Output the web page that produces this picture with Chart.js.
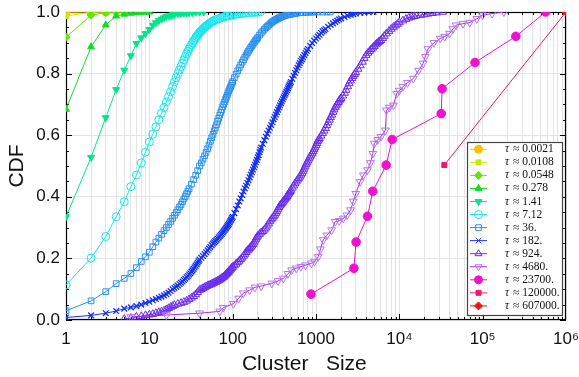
<!DOCTYPE html>
<html>
<head>
<meta charset="utf-8">
<script src="https://cdn.jsdelivr.net/npm/chart.js@4.4.1/dist/chart.umd.min.js"></script>
<style>
  html, body { margin: 0; padding: 0; background: #fff; }
  #wrap { width: 579px; height: 377px; }
</style>
</head>
<body>
<div id="wrap"><canvas id="cdf"></canvas></div>
<script>
// tau values for the legend
const TAU_LABELS = ['0.0021', '0.0108', '0.0548', '0.278', '1.41', '7.12', '36.', '182.', '924.', '4680.', '23700.', '120000.', '607000.'];

// x axis labels at the decades
const X_DECADES = [1, 10, 100, 1000, 1e4, 1e5, 1e6];
const X_LABELS = ['1', '10', '100', '1000', '10\u2074', '10\u2075', '10\u2076'];
const Y_TICKS = [0, 0.2, 0.4, 0.6, 0.8, 1.0];

// cluster sizes (s_) and cdf values (c_)
const s_0021 = [1, 2, 3];
const c_0021 = [0.999, 1, 1];

const s_0108 = [1, 2, 3, 4];
const c_0108 = [0.987, 0.999, 1, 1];

const s_0548 = [1, 2, 3, 4, 5];
const c_0548 = [0.918, 0.99, 0.998, 1, 1];

const s_278 = [1, 2, 3, 4, 5, 6, 7, 8, 9, 10];
const c_278 = [0.684, 0.887, 0.958, 0.987, 0.993, 0.996, 0.998, 0.999, 1, 1];

const s_141 = [1, 2, 3, 4, 5, 6, 7, 8, 9, 10, 11, 12, 13, 14, 15, 16, 17, 18, 19, 20, 22, 24, 26, 28, 30, 33, 36, 40, 45];
const c_141 = [0.335, 0.528, 0.657, 0.748, 0.811, 0.858, 0.898, 0.916, 0.93, 0.943, 0.957, 0.965, 0.972, 0.977, 0.981, 0.985, 0.987, 0.989, 0.991, 0.992, 0.994, 0.995, 0.996, 0.997, 0.998, 0.998, 0.999, 1, 1];

const s_712 = [1, 2, 3, 4, 5, 6, 7, 8, 9, 10, 11, 12, 13, 14, 15, 16, 17, 18, 19, 20,
  21, 22, 23, 24, 25, 26, 27, 28, 29, 30, 31, 32, 33, 34, 35, 36, 37, 38, 39, 40,
  41, 42, 43, 44, 45, 46, 47, 48, 49, 50, 52, 54, 56, 58, 60, 63, 66, 70, 74, 78,
  82, 86, 90, 95, 100, 106, 112, 120, 128, 136, 145, 155, 170, 185, 200, 215];
const c_712 = [0.114, 0.201, 0.271, 0.335, 0.384, 0.433, 0.471, 0.51, 0.545, 0.578, 0.603, 0.627, 0.65, 0.671, 0.69, 0.708, 0.725, 0.741, 0.758, 0.773,
  0.787, 0.8, 0.812, 0.823, 0.834, 0.845, 0.855, 0.864, 0.872, 0.88, 0.887, 0.894, 0.9, 0.906, 0.911, 0.916, 0.921, 0.925, 0.929, 0.933,
  0.936, 0.939, 0.942, 0.945, 0.948, 0.95, 0.952, 0.954, 0.956, 0.958, 0.962, 0.965, 0.968, 0.97, 0.972, 0.975, 0.977, 0.98, 0.982, 0.984,
  0.986, 0.987, 0.988, 0.99, 0.991, 0.992, 0.993, 0.994, 0.995, 0.996, 0.997, 0.998, 0.998, 0.999, 0.999, 1];

const s_36 = [1, 2, 3, 4, 5, 6, 7, 8, 9, 10, 11, 12, 13, 14, 15, 16, 17, 18, 19, 20,
  21, 22, 23, 24, 25, 26, 27, 28, 29, 30, 32, 34, 36, 38, 40, 42, 44, 46, 48, 50,
  52, 54, 56, 58, 60, 62, 64, 66, 68, 70, 72, 74, 76, 78, 80, 82, 84, 86, 88, 90,
  92, 94, 96, 98, 100, 105, 110, 115, 120, 125, 130, 135, 140, 145, 150, 155, 160, 165, 170, 175,
  180, 185, 190, 195, 200, 210, 220, 230, 240, 250, 260, 270, 280, 290, 300, 310, 320, 330, 340, 350,
  360, 370, 380, 390, 400, 420, 440, 460, 480, 500, 520, 540, 560, 580, 600, 650, 700, 750, 800, 850,
  900, 950, 1050, 1200, 1350, 1480];
const c_36 = [0.03, 0.062, 0.092, 0.118, 0.135, 0.151, 0.17, 0.19, 0.205, 0.22, 0.238, 0.253, 0.266, 0.278, 0.29, 0.3, 0.31, 0.32, 0.33, 0.34,
  0.349, 0.358, 0.367, 0.375, 0.384, 0.393, 0.401, 0.41, 0.418, 0.426, 0.441, 0.456, 0.47, 0.485, 0.5, 0.51, 0.522, 0.533, 0.544, 0.556,
  0.568, 0.58, 0.592, 0.603, 0.614, 0.624, 0.634, 0.645, 0.655, 0.665, 0.674, 0.683, 0.692, 0.7, 0.708, 0.716, 0.723, 0.73, 0.737, 0.744,
  0.75, 0.756, 0.762, 0.768, 0.774, 0.787, 0.798, 0.809, 0.819, 0.828, 0.837, 0.845, 0.853, 0.86, 0.867, 0.873, 0.879, 0.885, 0.89, 0.895,
  0.9, 0.905, 0.909, 0.913, 0.917, 0.925, 0.932, 0.938, 0.944, 0.949, 0.953, 0.957, 0.961, 0.965, 0.968, 0.971, 0.973, 0.975, 0.977, 0.979,
  0.981, 0.982, 0.984, 0.985, 0.986, 0.988, 0.99, 0.991, 0.992, 0.993, 0.994, 0.995, 0.996, 0.996, 0.997, 0.998, 0.998, 0.999, 0.999, 1,
  1, 1, 1, 1, 1, 1];

const s_182 = [1, 2, 3, 4, 5, 6, 7, 8, 9, 10, 11, 12, 13, 14, 15, 16, 17, 18, 19, 20,
  21, 22, 23, 24, 25, 26, 27, 28, 29, 30, 31, 32, 33, 34, 35, 36, 37, 38, 39, 40,
  42, 44, 46, 48, 50, 52, 54, 56, 58, 60, 62, 64, 66, 68, 70, 72, 74, 76, 78, 80,
  82, 84, 86, 88, 90, 92, 94, 96, 98, 100, 105, 110, 115, 120, 125, 130, 135, 140, 145, 150,
  155, 160, 165, 170, 175, 180, 185, 190, 195, 200, 205, 210, 215, 220, 230, 240, 250, 260, 270, 280,
  290, 300, 310, 320, 330, 340, 350, 360, 370, 380, 390, 400, 410, 420, 430, 440, 450, 460, 470, 480,
  490, 500, 520, 540, 560, 580, 600, 620, 640, 660, 680, 700, 725, 750, 775, 800, 850, 900, 950, 1000,
  1050, 1100, 1150, 1200, 1250, 1300, 1400, 1500, 1600, 1700, 1800, 1900, 2000, 2200, 2400, 2600, 2800, 3000, 3400, 3800, 4300, 4900];
const c_182 = [0.008, 0.015, 0.022, 0.029, 0.037, 0.041, 0.045, 0.05, 0.055, 0.059, 0.064, 0.068, 0.072, 0.076, 0.08, 0.084, 0.089, 0.094, 0.1, 0.104,
  0.108, 0.112, 0.117, 0.121, 0.125, 0.13, 0.134, 0.139, 0.143, 0.148, 0.152, 0.157, 0.161, 0.166, 0.171, 0.176, 0.181, 0.186, 0.191, 0.196,
  0.202, 0.208, 0.214, 0.22, 0.226, 0.232, 0.237, 0.243, 0.248, 0.252, 0.256, 0.26, 0.264, 0.268, 0.272, 0.276, 0.28, 0.284, 0.288, 0.292,
  0.296, 0.3, 0.304, 0.308, 0.312, 0.317, 0.322, 0.326, 0.331, 0.335, 0.347, 0.36, 0.372, 0.385, 0.395, 0.406, 0.417, 0.427, 0.436, 0.445,
  0.454, 0.463, 0.472, 0.48, 0.488, 0.496, 0.504, 0.512, 0.52, 0.528, 0.535, 0.545, 0.553, 0.56, 0.572, 0.584, 0.595, 0.605, 0.615, 0.624,
  0.633, 0.642, 0.651, 0.659, 0.667, 0.675, 0.683, 0.69, 0.697, 0.704, 0.71, 0.717, 0.723, 0.729, 0.735, 0.741, 0.746, 0.752, 0.758, 0.763,
  0.768, 0.773, 0.783, 0.793, 0.802, 0.811, 0.819, 0.827, 0.834, 0.841, 0.847, 0.853, 0.86, 0.867, 0.874, 0.88, 0.89, 0.899, 0.907, 0.914,
  0.92, 0.926, 0.932, 0.937, 0.941, 0.945, 0.952, 0.958, 0.963, 0.968, 0.972, 0.976, 0.979, 0.984, 0.988, 0.991, 0.993, 0.995, 0.997, 0.998, 0.999, 1];

const s_924 = [5, 6, 7, 8, 9, 10, 11, 12, 13, 14, 15, 16, 17, 18, 19, 20, 22, 24, 26, 28,
  30, 32, 34, 36, 38, 40, 42, 44, 46, 48, 50, 52, 54, 56, 58, 60, 62, 64, 66, 68,
  70, 72, 74, 76, 78, 80, 82, 84, 86, 88, 90, 92, 94, 96, 98, 100, 105, 110, 115, 120,
  125, 130, 135, 140, 145, 150, 155, 160, 165, 170, 175, 180, 185, 190, 195, 200, 210, 220, 230, 240,
  250, 260, 270, 280, 290, 300, 310, 320, 330, 340, 350, 360, 370, 380, 390, 400, 410, 420, 430, 440,
  450, 460, 470, 480, 490, 500, 520, 540, 560, 580, 600, 620, 640, 660, 680, 700, 720, 740, 760, 780,
  800, 825, 850, 875, 900, 925, 950, 975, 1000, 1025, 1050, 1075, 1100, 1150, 1200, 1250, 1300, 1350, 1400, 1450,
  1500, 1550, 1600, 1650, 1700, 1750, 1800, 1850, 1900, 1950, 2000, 2100, 2200, 2300, 2400, 2500, 2600, 2700, 2800, 2900,
  3000, 3200, 3400, 3600, 3800, 4000, 4200, 4400, 4600, 4800, 5000, 5200, 5400, 5600, 5800, 6000, 6300, 6600, 7000, 7500,
  8000, 8500, 9000, 9500, 10000, 11000, 12000, 13000, 14000, 15000, 16000, 18000, 20000, 22000, 25000, 28000, 33000];
const c_924 = [0.003, 0.006, 0.01, 0.012, 0.015, 0.017, 0.019, 0.022, 0.025, 0.027, 0.03, 0.034, 0.038, 0.042, 0.045, 0.048, 0.052, 0.055, 0.058, 0.062,
  0.067, 0.072, 0.077, 0.083, 0.09, 0.097, 0.1, 0.103, 0.106, 0.109, 0.111, 0.113, 0.115, 0.117, 0.119, 0.121, 0.123, 0.125, 0.127, 0.129,
  0.131, 0.133, 0.136, 0.138, 0.14, 0.143, 0.146, 0.149, 0.152, 0.155, 0.158, 0.161, 0.164, 0.167, 0.17, 0.172, 0.177, 0.182, 0.187, 0.192,
  0.197, 0.202, 0.208, 0.214, 0.22, 0.225, 0.229, 0.233, 0.237, 0.241, 0.246, 0.251, 0.257, 0.263, 0.268, 0.273, 0.279, 0.284, 0.288, 0.293,
  0.299, 0.306, 0.313, 0.32, 0.326, 0.331, 0.336, 0.341, 0.347, 0.353, 0.36, 0.366, 0.371, 0.375, 0.379, 0.383, 0.387, 0.391, 0.394, 0.398,
  0.402, 0.406, 0.41, 0.414, 0.418, 0.422, 0.429, 0.436, 0.443, 0.449, 0.455, 0.46, 0.465, 0.471, 0.477, 0.484, 0.491, 0.498, 0.505, 0.511,
  0.517, 0.524, 0.53, 0.536, 0.542, 0.548, 0.554, 0.56, 0.567, 0.574, 0.58, 0.585, 0.59, 0.598, 0.606, 0.614, 0.623, 0.632, 0.641, 0.65,
  0.658, 0.666, 0.675, 0.683, 0.69, 0.696, 0.702, 0.707, 0.712, 0.716, 0.72, 0.728, 0.737, 0.747, 0.758, 0.768, 0.777, 0.785, 0.792, 0.798,
  0.804, 0.815, 0.826, 0.838, 0.85, 0.86, 0.867, 0.873, 0.879, 0.884, 0.889, 0.894, 0.898, 0.902, 0.905, 0.908, 0.915, 0.922, 0.93, 0.938,
  0.945, 0.951, 0.956, 0.961, 0.966, 0.972, 0.977, 0.981, 0.984, 0.986, 0.988, 0.99, 0.992, 0.994, 0.996, 0.998, 1];

const s_4680 = [6, 16, 40, 70, 77, 102, 118, 134, 160, 185, 220, 295, 350, 405, 460, 510, 580, 660, 750, 880,
  960, 1060, 1130, 1220, 1350, 1540, 1700, 1900, 2120, 2350, 2600, 2800, 3000, 3380, 3700, 4150, 4500, 4800, 5000, 5500,
  6000, 6800, 7000, 7600, 8500, 9300, 10000, 11000, 12500, 14700, 17000, 19300, 20500, 22000, 26000, 31000, 35000, 40000, 44000, 48000,
  58000, 70000, 85000, 100000, 130000, 180000];
const c_4680 = [0.01, 0.016, 0.022, 0.028, 0.04, 0.053, 0.07, 0.087, 0.097, 0.106, 0.11, 0.119, 0.127, 0.135, 0.15, 0.162, 0.168, 0.173, 0.178, 0.184,
  0.19, 0.205, 0.23, 0.26, 0.275, 0.292, 0.319, 0.322, 0.33, 0.34, 0.357, 0.385, 0.41, 0.449, 0.47, 0.487, 0.51, 0.54, 0.573, 0.585,
  0.595, 0.616, 0.681, 0.69, 0.697, 0.735, 0.745, 0.757, 0.77, 0.784, 0.81, 0.833, 0.855, 0.88, 0.9, 0.914, 0.92, 0.93, 0.945, 0.957,
  0.962, 0.966, 0.978, 0.99, 0.995, 1];

const s_23700 = [870, 2850, 3030, 4150, 4800, 6950, 8200, 31800, 32600, 81000, 250000, 570000];
const c_23700 = [0.084, 0.168, 0.253, 0.337, 0.418, 0.503, 0.586, 0.67, 0.751, 0.836, 0.921, 1];

const s_120000 = [34600, 1000000];
const c_120000 = [0.503, 1];

const s_607000 = [1000000];
const c_607000 = [1];

const COLORS = ['#f5c400', '#c4ec00', '#5fe800', '#14dc28', '#00e68a', '#14e6f0', '#2a8ff0', '#1430f5', '#6a2cf0', '#a82ae8', '#f010d0', '#f0186a', '#f01414'];

function series(i, sizes, cdf, style, filled, radius, rotation) {
  const col = COLORS[i];
  return {
    label: 'τ ≈ ' + TAU_LABELS[i],
    data: sizes.map((s, k) => ({ x: s, y: cdf[k] })),
    order: 13 - i,
    borderColor: col,
    backgroundColor: col,
    borderWidth: 1,
    pointStyle: style,
    pointRadius: radius,
    pointRotation: rotation || 0,
    pointBackgroundColor: filled ? col : 'rgba(0,0,0,0)',
    pointBorderColor: col,
    pointBorderWidth: 1,
    tension: 0,
    _filled: filled
  };
}

const datasets = [
  series(0, s_0021, c_0021, 'circle', true, 4),
  series(1, s_0108, c_0108, 'rect', true, 3.5),
  series(2, s_0548, c_0548, 'rectRot', true, 4),
  series(3, s_278, c_278, 'triangle', true, 4),
  series(4, s_141, c_141, 'triangle', true, 4, 180),
  series(5, s_712, c_712, 'circle', false, 4),
  series(6, s_36, c_36, 'rect', false, 4),
  series(7, s_182, c_182, 'crossRot', false, 4),
  series(8, s_924, c_924, 'triangle', false, 4.5),
  series(9, s_4680, c_4680, 'triangle', false, 4.5, 180),
  series(10, s_23700, c_23700, 'circle', true, 4.3),
  series(11, s_120000, c_120000, 'rect', true, 3.5),
  series(12, s_607000, c_607000, 'rectRot', true, 4)
];
datasets[9].pointBorderColor = '#b872f0';
datasets[7].pointBorderWidth = 1.3;

// frame with inward ticks on all four sides
const framePlugin = {
  id: 'frame',
  beforeDatasetsDraw(chart) {
    const { ctx, chartArea: a, scales: { x, y } } = chart;
    ctx.save();
    ctx.strokeStyle = '#000';
    ctx.lineWidth = 1;
    ctx.beginPath();
    for (let e = 0; e < 6; e++) {
      for (let m = 1; m < 10; m++) {
        const px = Math.round(x.getPixelForValue(m * Math.pow(10, e))) + 0.5;
        const len = m === 1 ? 6 : 3;
        ctx.moveTo(px, a.bottom); ctx.lineTo(px, a.bottom - len);
        ctx.moveTo(px, a.top); ctx.lineTo(px, a.top + len);
      }
    }
    for (let i = 0; i <= 20; i++) {
      const py = Math.round(y.getPixelForValue(i * 0.05)) + 0.5;
      const len = i % 4 === 0 ? 6 : 3;
      ctx.moveTo(a.left, py); ctx.lineTo(a.left + len, py);
      ctx.moveTo(a.right, py); ctx.lineTo(a.right - len, py);
    }
    ctx.stroke();
    ctx.lineWidth = 1.2;
    ctx.strokeRect(a.left + 0.5, a.top + 0.5, a.right - a.left - 1, a.bottom - a.top - 1);
    ctx.restore();
  }
};

// legend box inside the plot, bottom right
const legendPlugin = {
  id: 'boxLegend',
  afterDraw(chart) {
    const ctx = chart.ctx;
    const bx = 467, by = 142, bw = 95, bh = 173, row = 13.05, first = 149.3;
    ctx.save();
    ctx.fillStyle = '#fff';
    ctx.fillRect(bx, by, bw, bh);
    ctx.strokeStyle = '#444';
    ctx.lineWidth = 1.2;
    ctx.strokeRect(bx + 0.5, by + 0.5, bw, bh);
    chart.data.datasets.forEach((ds, i) => {
      const cy = first + i * row;
      ctx.strokeStyle = ds.borderColor;
      ctx.lineWidth = 1;
      ctx.beginPath();
      ctx.moveTo(470, cy); ctx.lineTo(487, cy);
      ctx.stroke();
      ctx.fillStyle = ds._filled ? ds.borderColor : 'rgba(0,0,0,0)';
      ctx.strokeStyle = ds.pointBorderColor;
      Chart.helpers.drawPoint(ctx, {
        pointStyle: ds.pointStyle, radius: Math.min(ds.pointRadius, 4), rotation: ds.pointRotation, borderWidth: 1
      }, 478.5, cy);
      ctx.fillStyle = '#111';
      ctx.textBaseline = 'middle';
      ctx.textAlign = 'left';
      ctx.font = 'italic 11.5px "Liberation Serif"';
      ctx.fillText('τ', 505, cy);
      ctx.font = '11.5px "Liberation Serif"';
      ctx.fillText('≈ ' + TAU_LABELS[i], 513, cy);
    });
    ctx.restore();
  }
};

new Chart(document.getElementById('cdf').getContext('2d'), {
  type: 'line',
  data: { datasets },
  plugins: [framePlugin, legendPlugin],
  options: {
    responsive: true,
    maintainAspectRatio: false,
    devicePixelRatio: 1,
    animation: false,
    layout: { padding: { left: 0, right: 13, top: 12, bottom: 0 } },
    plugins: { legend: { display: false }, tooltip: { enabled: false } },
    scales: {
      x: {
        type: 'logarithmic',
        min: 1,
        max: 1e6,
        afterBuildTicks: s => {
          const t = [];
          for (let e = 0; e < 6; e++) for (let m = 1; m < 10; m++) t.push({ value: m * Math.pow(10, e) });
          t.push({ value: 1e6 });
          s.ticks = t;
        },
        afterFit: s => { s.height = 57; s.paddingLeft = 0; s.paddingRight = 0; },
        ticks: {
          autoSkip: false,
          maxRotation: 0,
          padding: 9,
          color: '#111',
          font: { family: 'Liberation Sans', size: 17 },
          callback: v => {
            const k = X_DECADES.indexOf(v);
            return k >= 0 ? X_LABELS[k] : '';
          }
        },
        grid: { color: '#e4e4e4', drawTicks: false },
        border: { display: false },
        title: {
          display: true,
          text: 'Cluster   Size    ',
          color: '#111',
          font: { family: 'Liberation Sans', size: 21 },
          padding: { top: 0, bottom: 0 }
        }
      },
      y: {
        min: 0,
        max: 1,
        afterBuildTicks: s => { s.ticks = Y_TICKS.map(v => ({ value: v })); },
        afterFit: s => { s.width = 66; s.paddingTop = 0; s.paddingBottom = 0; },
        ticks: {
          padding: 6,
          color: '#111',
          font: { family: 'Liberation Sans', size: 17 },
          callback: v => v.toFixed(1)
        },
        grid: { color: '#e4e4e4', drawTicks: false },
        border: { display: false },
        title: {
          display: true,
          text: 'CDF',
          color: '#111',
          font: { family: 'Liberation Sans', size: 21 },
          padding: { top: 5, bottom: 5 }
        }
      }
    }
  }
});
</script>
</body>
</html>
